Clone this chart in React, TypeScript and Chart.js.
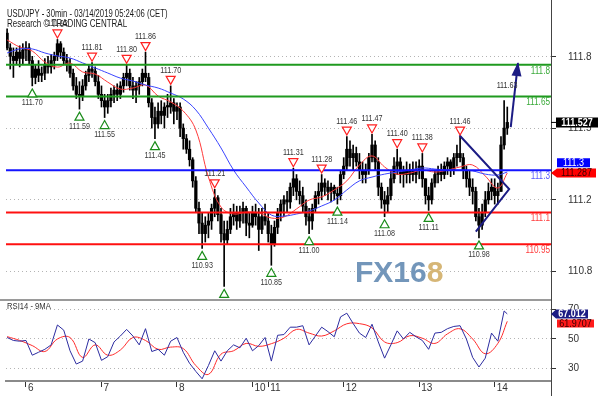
import React, { useEffect, useRef } from 'react';
import { Chart, registerables } from 'chart.js';
Chart.register(...registerables);

const FONT = "'Liberation Sans', Arial, sans-serif";
const NAVY = '#1c1c84';

// ---- price bars (hourly, index = trading hour from Mar 5 18:00 CET) ----
const firstOpen = 111.95;
const barHigh = [
  111.97,111.90,111.88,111.88,111.89,111.90,111.91,111.90,111.84,111.80,
  111.82,111.79,111.83,111.84,111.85,111.86,111.92,111.91,111.88,111.85,
  111.83,111.78,111.74,111.72,111.73,111.77,111.80,111.81,111.79,111.75,
  111.70,111.66,111.66,111.69,111.70,111.71,111.72,111.76,111.80,111.78,
  111.74,111.72,111.74,111.78,111.86,111.76,111.64,111.60,111.62,111.63,
  111.62,111.66,111.70,111.64,111.62,111.62,111.52,111.47,111.44,111.36,
  111.27,111.15,111.10,111.08,111.10,111.14,111.21,111.18,111.12,111.06,
  111.06,111.12,111.14,111.13,111.13,111.15,111.13,111.10,111.13,111.14,
  111.12,111.12,111.14,111.10,111.04,111.06,111.12,111.16,111.18,111.20,
  111.24,111.31,111.28,111.25,111.22,111.16,111.12,111.14,111.20,111.24,
  111.28,111.26,111.25,111.24,111.23,111.22,111.30,111.36,111.46,111.44,
  111.42,111.41,111.38,111.34,111.33,111.38,111.47,111.44,111.36,111.24,
  111.20,111.22,111.30,111.36,111.40,111.36,111.32,111.34,111.33,111.34,
  111.34,111.35,111.38,111.26,111.22,111.26,111.30,111.32,111.33,111.34,
  111.36,111.35,111.38,111.42,111.46,111.38,111.32,111.30,111.26,111.22,
  111.12,111.14,111.20,111.24,111.26,111.26,111.24,111.46,111.63,111.60,
];
const barLow = [
  111.87,111.78,111.74,111.80,111.79,111.80,111.82,111.80,111.70,111.71,
  111.72,111.72,111.73,111.76,111.76,111.78,111.82,111.83,111.80,111.77,
  111.74,111.68,111.64,111.59,111.63,111.68,111.72,111.74,111.70,111.64,
  111.60,111.55,111.57,111.60,111.62,111.63,111.64,111.67,111.70,111.68,
  111.64,111.62,111.66,111.70,111.72,111.60,111.50,111.45,111.50,111.52,
  111.50,111.55,111.57,111.52,111.54,111.46,111.40,111.38,111.32,111.22,
  111.10,111.00,110.93,110.96,110.98,111.02,111.08,111.06,110.96,110.75,
  110.95,111.00,111.04,111.02,111.03,111.05,110.99,110.98,111.03,111.04,
  110.92,111.00,111.04,110.96,110.85,110.94,111.00,111.06,111.08,111.10,
  111.12,111.18,111.16,111.14,111.10,111.04,111.00,111.02,111.10,111.14,
  111.16,111.18,111.16,111.15,111.16,111.14,111.16,111.26,111.30,111.32,
  111.30,111.32,111.26,111.24,111.24,111.28,111.34,111.30,111.18,111.12,
  111.08,111.10,111.16,111.24,111.28,111.24,111.22,111.24,111.24,111.25,
  111.24,111.26,111.22,111.14,111.11,111.14,111.22,111.24,111.25,111.26,
  111.28,111.27,111.28,111.32,111.34,111.26,111.22,111.18,111.14,111.06,
  110.98,111.02,111.08,111.14,111.16,111.14,111.14,111.20,111.40,111.47,
];
const barClose = [
  111.88,111.84,111.82,111.86,111.83,111.87,111.88,111.82,111.74,111.78,
  111.75,111.76,111.80,111.79,111.82,111.84,111.90,111.86,111.82,111.80,
  111.76,111.70,111.66,111.65,111.70,111.75,111.78,111.77,111.72,111.66,
  111.63,111.60,111.63,111.66,111.68,111.66,111.70,111.74,111.76,111.70,
  111.68,111.70,111.72,111.76,111.74,111.62,111.55,111.52,111.58,111.56,
  111.60,111.60,111.62,111.58,111.60,111.50,111.45,111.40,111.35,111.25,
  111.12,111.05,111.00,111.04,111.06,111.12,111.17,111.09,111.00,110.97,
  111.02,111.08,111.10,111.06,111.10,111.12,111.05,111.04,111.10,111.08,
  111.02,111.08,111.06,111.00,110.95,111.03,111.10,111.14,111.16,111.15,
  111.22,111.26,111.20,111.18,111.13,111.08,111.06,111.12,111.18,111.20,
  111.24,111.22,111.20,111.22,111.19,111.18,111.28,111.32,111.40,111.36,
  111.38,111.34,111.30,111.28,111.30,111.36,111.42,111.34,111.22,111.16,
  111.14,111.18,111.26,111.32,111.34,111.28,111.30,111.28,111.30,111.28,
  111.30,111.32,111.26,111.18,111.16,111.24,111.28,111.30,111.28,111.32,
  111.34,111.30,111.36,111.38,111.36,111.30,111.26,111.22,111.20,111.08,
  111.04,111.10,111.16,111.20,111.22,111.18,111.20,111.42,111.50,111.527,
];

// ---- moving averages (read at these bar indices) ----
const maTimes = [0,4,8,12,16,20,24,28,32,36,40,44,48,52,56,60,64,68,72,76,80,84,88,92,96,100,104,108,112,116,120,124,128,132,136,140,144,148,152,156,159];
const redMa = [
  111.918,111.884,111.865,111.813,111.789,111.808,111.766,111.756,111.718,111.685,
  111.690,111.704,111.652,111.624,111.581,111.491,111.268,111.126,111.093,111.102,
  111.098,111.074,111.079,111.117,111.159,111.174,111.207,111.250,111.325,111.368,
  111.316,111.282,111.287,111.301,111.292,111.301,111.316,111.325,111.273,111.216,
  111.287,
];
const blueMa = [
  111.856,111.875,111.875,111.856,111.842,111.832,111.809,111.785,111.761,111.737,
  111.723,111.704,111.690,111.666,111.638,111.586,111.500,111.406,111.301,111.221,
  111.145,111.088,111.083,111.093,111.107,111.131,111.159,111.207,111.250,111.268,
  111.282,111.292,111.301,111.311,111.306,111.301,111.301,111.297,111.282,111.278,
  111.292,
];

// ---- support / resistance levels ----
const levelValues = [111.8, 111.65, 111.3, 111.1, 110.95];

// ---- swing markers (bar indices) ----
const topIdx = [16, 27, 38, 44, 52, 66, 91, 100, 108, 116, 124, 132, 144];
const topLabelOnlyIdx = [158];
const bottomIdx = [8, 23, 31, 47, 62, 69, 84, 96, 105, 120, 134, 150];

// ---- triangle pattern & target arrow ----
const patternTimes = [143.8, 159.6, 149.0];
const patternPrices = [111.466, 111.211, 111.009];
const arrowTimes = [160.1, 162.4];
const arrowPrices = [111.505, 111.808];

// ---- axes ----
const priceTickValues = [111.837, 111.5, 111.16, 110.82];
const priceTickLabels = ['111.8', '111.5', '111.2', '110.8'];
const dayTickIdx = [6, 30, 54, 78, 83, 107, 131, 155];
const dayLabels = ['6', '7', '8', '10', '11', '12', '13', '14'];
const rsiTickValues = [70, 50, 30];
const rsiTickLabels = ['70', '50', '30'];

// ---- RSI(14) and its 9MA ----
const rsiTimes = [0,2,4,6,8,10,12,14,16,18,20,22,24,26,28,30,32,34,36,38,40,42,44,46,48,50,52,54,56,58,60,62,64,66,68,70,72,74,76,78,80,82,84,86,88,90,92,94,96,98,100,102,104,106,108,110,112,114,116,118,120,122,124,126,128,130,132,134,136,138,140,142,144,146,148,150,152,154,156,158,159];
const rsiValues = [
  51,49,48.5,49,39,41,43,46,59.5,56,
  42,33,35,50,47.5,35.5,38,48,52,56.5,
  52,46,57,41.5,43,39,48.5,51,41,33.5,
  28,23,32,42,35,42,46,44,50.5,42,
  45.5,51,35,52.5,53,58,58,59,46,52,
  58,55,51.5,65,67.5,60.5,54,51,60,48,
  37,46,55.5,50,54.5,51.5,49,43,54,54.5,
  57,58.5,59,50,37.5,31,37,54,48.5,69,
  67.012,
];
const rsiMa = [
  51.6,49,45.5,41.5,50,51,37.5,46,39,42.5,
  51,49,43,44.5,43.5,32,26,39.7,42,47,
  45,46.8,50.5,56.5,54,52,55.5,60.3,60.4,57.5,
  48,47.5,52.2,50.5,47,53.5,56.9,50,40,47,
  61.9707,
];

const X_MIN = -0.35;
const X_MAX = 172.9;

function txt(ctx: any, s: string, x: number, y: number, o: any) {
  ctx.save();
  ctx.font = o.font;
  ctx.fillStyle = o.color;
  ctx.textAlign = o.align || 'left';
  ctx.textBaseline = o.baseline || 'middle';
  ctx.translate(x, y);
  ctx.scale(o.sx || 1, 1);
  ctx.fillText(s, 0, 0);
  ctx.restore();
}

function tri(ctx: any, cx: number, cy: number, up: boolean, color: string) {
  const w = 4.5, h = 4;
  ctx.save();
  ctx.beginPath();
  if (up) { ctx.moveTo(cx, cy - h); ctx.lineTo(cx + w, cy + h); ctx.lineTo(cx - w, cy + h); }
  else { ctx.moveTo(cx, cy + h); ctx.lineTo(cx + w, cy - h); ctx.lineTo(cx - w, cy - h); }
  ctx.closePath();
  ctx.fillStyle = '#fff';
  ctx.fill();
  ctx.strokeStyle = color;
  ctx.lineWidth = 1.2;
  ctx.stroke();
  ctx.restore();
}

function tag(ctx: any, text: string, yc: number, o: any) {
  const h = o.h;
  ctx.save();
  ctx.beginPath();
  if (o.tip != null) {
    ctx.moveTo(o.tip, yc);
    ctx.lineTo(o.x0, yc - h / 2);
    ctx.lineTo(o.x1, yc - h / 2);
    ctx.lineTo(o.x1, yc + h / 2);
    ctx.lineTo(o.x0, yc + h / 2);
  } else {
    ctx.rect(o.x0, yc - h / 2, o.x1 - o.x0, h);
  }
  ctx.closePath();
  ctx.fillStyle = o.fill;
  ctx.fill();
  ctx.restore();
  txt(ctx, text, (o.x0 + o.x1) / 2, yc + 0.5, { font: `${o.bold ? 'bold ' : ''}10px ${FONT}`, color: o.color, align: 'center', sx: 0.9 });
}

const levelLineColors = ['#1f9a1f', '#1f9a1f', '#1414ff', '#ff1010', '#ff1010'];
const levelTextColors = ['#3aaa3a', '#3aaa3a', '#5a5aff', '#ff3c3c', '#ff3c3c'];

const mainDecor = {
  id: 'mainDecor',
  beforeDatasetsDraw(chart: any) {
    const { ctx } = chart;
    ctx.save();
    ctx.font = `bold 30px ${FONT}`;
    ctx.textBaseline = 'alphabetic';
    ctx.fillStyle = '#7396ba';
    ctx.fillText('FX16', 355, 282);
    const w = ctx.measureText('FX16').width;
    ctx.fillStyle = '#d6b676';
    ctx.fillText('8', 355 + w, 282);
    ctx.restore();
  },
  afterDatasetsDraw(chart: any) {
    const { ctx, chartArea: ca, scales } = chart;
    const x = scales.x, y = scales.y;
    levelValues.forEach((v, k) => {
      txt(ctx, String(v), ca.right - 1, y.getPixelForValue(v) + 6, { font: `10px ${FONT}`, color: levelTextColors[k], align: 'right', sx: 0.82 });
    });
    const lf = `9px ${FONT}`;
    topIdx.forEach((i) => {
      const px = x.getPixelForValue(i), py = y.getPixelForValue(barHigh[i]);
      tri(ctx, px, py - 5.5, false, '#ff2020');
      txt(ctx, barHigh[i].toFixed(2), px, py - 15.5, { font: lf, color: '#333', align: 'center', sx: 0.8 });
    });
    topLabelOnlyIdx.forEach((i) => {
      const px = x.getPixelForValue(i), py = y.getPixelForValue(barHigh[i]);
      txt(ctx, barHigh[i].toFixed(2), px + 3, py - 15.5, { font: lf, color: '#333', align: 'center', sx: 0.8 });
    });
    bottomIdx.forEach((i) => {
      const px = x.getPixelForValue(i), py = y.getPixelForValue(barLow[i]);
      tri(ctx, px, py + 7, true, '#1a8c1a');
      if (py + 17 < ca.bottom - 4) {
        txt(ctx, barLow[i].toFixed(2), px, py + 17, { font: lf, color: '#3a3a3a', align: 'center', sx: 0.8 });
      }
    });
    // arrow head
    const tx = x.getPixelForValue(arrowTimes[1]), ty = y.getPixelForValue(arrowPrices[1]);
    const fx = x.getPixelForValue(arrowTimes[0]), fy = y.getPixelForValue(arrowPrices[0]);
    const ang = Math.atan2(ty - fy, tx - fx);
    ctx.save();
    ctx.translate(tx, ty);
    ctx.rotate(ang);
    ctx.beginPath();
    ctx.moveTo(1, 0);
    ctx.lineTo(-13, -5);
    ctx.lineTo(-13, 5);
    ctx.closePath();
    ctx.fillStyle = NAVY;
    ctx.fill();
    ctx.restore();
  },
  afterDraw(chart: any) {
    const { ctx, chartArea: ca, scales } = chart;
    const y = scales.y;
    txt(ctx, 'USD/JPY - 30min - 03/14/2019 05:24:06 (CET)', 7, 16.5, { font: `10px ${FONT}`, color: '#1a1a1a', baseline: 'alphabetic', sx: 0.77 });
    txt(ctx, 'Research © TRADING CENTRAL', 7, 26.5, { font: `10px ${FONT}`, color: '#1a1a1a', baseline: 'alphabetic', sx: 0.8 });
    const last = barClose[barClose.length - 1];
    const ly = y.getPixelForValue(last);
    ctx.save();
    ctx.strokeStyle = '#000';
    ctx.lineWidth = 1;
    ctx.beginPath(); ctx.moveTo(ca.right, ly); ctx.lineTo(ca.right + 6, ly); ctx.stroke();
    ctx.restore();
    tag(ctx, String(last), ly, { x0: 556, x1: 598, h: 10, fill: '#000', color: '#fff', bold: true });
    const blueLevel = levelValues[2];
    tag(ctx, String(blueLevel), y.getPixelForValue(blueLevel) - 7.6, { x0: 557, x1: 590, h: 9, fill: '#0000ff', color: '#fff' });
    const redLast = redMa[redMa.length - 1];
    tag(ctx, String(redLast), y.getPixelForValue(redLast), { tip: ca.right, x0: 557, x1: 596, h: 9, fill: '#ff0000', color: '#3a0000' });
  },
};

const rsiDecor = {
  id: 'rsiDecor',
  afterDraw(chart: any) {
    const { ctx, chartArea: ca, scales } = chart;
    const y = scales.y;
    ctx.save();
    ctx.strokeStyle = '#9a9a9a';
    ctx.lineWidth = 2;
    ctx.beginPath(); ctx.moveTo(0, ca.top); ctx.lineTo(ca.right, ca.top); ctx.stroke();
    ctx.strokeStyle = '#444';
    ctx.lineWidth = 1;
    ctx.beginPath(); ctx.moveTo(ca.right + 0.5, 0); ctx.lineTo(ca.right + 0.5, chart.height); ctx.stroke();
    ctx.restore();
    txt(ctx, 'RSI14 - 9MA', 7, ca.top + 7, { font: `9px ${FONT}`, color: '#333', sx: 0.85 });
    const r = rsiValues[rsiValues.length - 1];
    const m = rsiMa[rsiMa.length - 1];
    tag(ctx, String(r), y.getPixelForValue(r), { tip: ca.right, x0: 556, x1: 588, h: 9, fill: NAVY, color: '#fff', bold: true });
    tag(ctx, String(m), y.getPixelForValue(m) + 2.2, { x0: 557, x1: 594, h: 8, fill: '#ff1a1a', color: '#3a0000' });
  },
};

function mainConfig(): any {
  const wick = barHigh.map((h, i) => ({ x: i, y: [barLow[i], h] }));
  const body = barClose.map((c, i) => ({ x: i, y: [i === 0 ? firstOpen : barClose[i - 1], c] }));
  const levelSets = levelValues.map((v, k) => ({
    type: 'line', data: [{ x: X_MIN, y: v }, { x: X_MAX, y: v }], borderColor: levelLineColors[k], borderWidth: 2, pointRadius: 0, order: 3,
  }));
  return {
    type: 'bar',
    data: {
      datasets: [
        { type: 'bar', data: wick, backgroundColor: '#000', barThickness: 1, grouped: false, order: 10 },
        { type: 'bar', data: body, backgroundColor: '#000', barThickness: 2.6, minBarLength: 1.5, grouped: false, order: 10 },
        { type: 'line', data: maTimes.map((t, k) => ({ x: t, y: blueMa[k] })), borderColor: '#3a44ff', borderWidth: 1, pointRadius: 0, tension: 0.4, order: 5 },
        { type: 'line', data: maTimes.map((t, k) => ({ x: t, y: redMa[k] })), borderColor: '#ff3a3a', borderWidth: 1, pointRadius: 0, tension: 0.4, order: 5 },
        ...levelSets,
        { type: 'line', data: patternTimes.map((t, k) => ({ x: t, y: patternPrices[k] })), borderColor: NAVY, borderWidth: 2, pointRadius: 0, order: 1 },
        { type: 'line', data: arrowTimes.map((t, k) => ({ x: t, y: arrowPrices[k] })), borderColor: NAVY, borderWidth: 2, pointRadius: 0, order: 1 },
      ],
    },
    options: {
      animation: false,
      responsive: false,
      events: [],
      layout: { padding: { left: 6, right: 0, top: 0, bottom: 0 } },
      plugins: { legend: { display: false }, tooltip: { enabled: false } },
      scales: {
        x: { type: 'linear', min: X_MIN, max: X_MAX, display: false, offset: false },
        y: {
          type: 'linear', position: 'right', min: 110.695, max: 112.107,
          afterBuildTicks: (s: any) => { s.ticks = priceTickValues.map((v) => ({ value: v })); },
          afterFit: (s: any) => { s.width = 47; s.paddingTop = 0; s.paddingBottom = 0; },
          ticks: { callback: (_v: any, i: number) => priceTickLabels[i], color: '#333', font: { family: FONT, size: 10 }, padding: 12, autoSkip: false },
          grid: { color: '#b4b4b4', tickColor: '#333', tickLength: 5, drawTicks: true },
          border: { display: true, color: '#444', width: 1, dash: [1, 3] },
        },
      },
    },
    plugins: [mainDecor],
  };
}

function rsiConfig(): any {
  return {
    type: 'line',
    data: {
      datasets: [
        { data: rsiMa.map((v, k) => ({ x: maTimes[k], y: v })), borderColor: '#ff2a2a', borderWidth: 1, pointRadius: 0, tension: 0.4, order: 2 },
        { data: rsiValues.map((v, k) => ({ x: rsiTimes[k], y: v })), borderColor: '#2c2ca0', borderWidth: 1, pointRadius: 0, tension: 0, order: 1 },
      ],
    },
    options: {
      animation: false,
      responsive: false,
      events: [],
      layout: { padding: { left: 6, right: 0, top: 2, bottom: 0 } },
      plugins: { legend: { display: false }, tooltip: { enabled: false } },
      scales: {
        x: {
          type: 'linear', min: X_MIN, max: X_MAX, offset: false,
          afterBuildTicks: (s: any) => { s.ticks = dayTickIdx.map((v) => ({ value: v })); },
          afterFit: (s: any) => { s.height = 15; s.paddingLeft = 0; s.paddingRight = 0; },
          ticks: { callback: (_v: any, i: number) => dayLabels[i], align: 'start', labelOffset: 2, padding: -5, maxRotation: 0, autoSkip: false, color: '#333', font: { family: FONT, size: 10 } },
          grid: { drawOnChartArea: false, drawTicks: true, tickLength: 6, tickColor: '#333' },
          border: { display: true, color: '#8a8a8a', width: 2 },
        },
        y: {
          type: 'linear', position: 'right', min: 21.5, max: 76.44,
          afterBuildTicks: (s: any) => { s.ticks = rsiTickValues.map((v) => ({ value: v })); },
          afterFit: (s: any) => { s.width = 47; s.paddingTop = 0; s.paddingBottom = 0; },
          ticks: { callback: (_v: any, i: number) => rsiTickLabels[i], color: '#333', font: { family: FONT, size: 10 }, padding: 12, autoSkip: false },
          grid: { color: '#b4b4b4', tickColor: '#333', tickLength: 5, drawTicks: true },
          border: { display: true, color: '#444', width: 1, dash: [1, 3] },
        },
      },
    },
    plugins: [rsiDecor],
  };
}

export default function App() {
  const mainRef = useRef<HTMLCanvasElement | null>(null);
  const rsiRef = useRef<HTMLCanvasElement | null>(null);
  useEffect(() => {
    const c1 = new Chart(mainRef.current as HTMLCanvasElement, mainConfig());
    const c2 = new Chart(rsiRef.current as HTMLCanvasElement, rsiConfig());
    return () => { c1.destroy(); c2.destroy(); };
  }, []);
  return (
    <div style={{ position: 'fixed', left: 0, top: 0, width: 598, height: 396, background: '#fff', overflow: 'hidden' }}>
      <canvas ref={mainRef} width={598} height={298} style={{ position: 'absolute', left: 0, top: 0 }} />
      <canvas ref={rsiRef} width={598} height={98} style={{ position: 'absolute', left: 0, top: 298 }} />
    </div>
  );
}
